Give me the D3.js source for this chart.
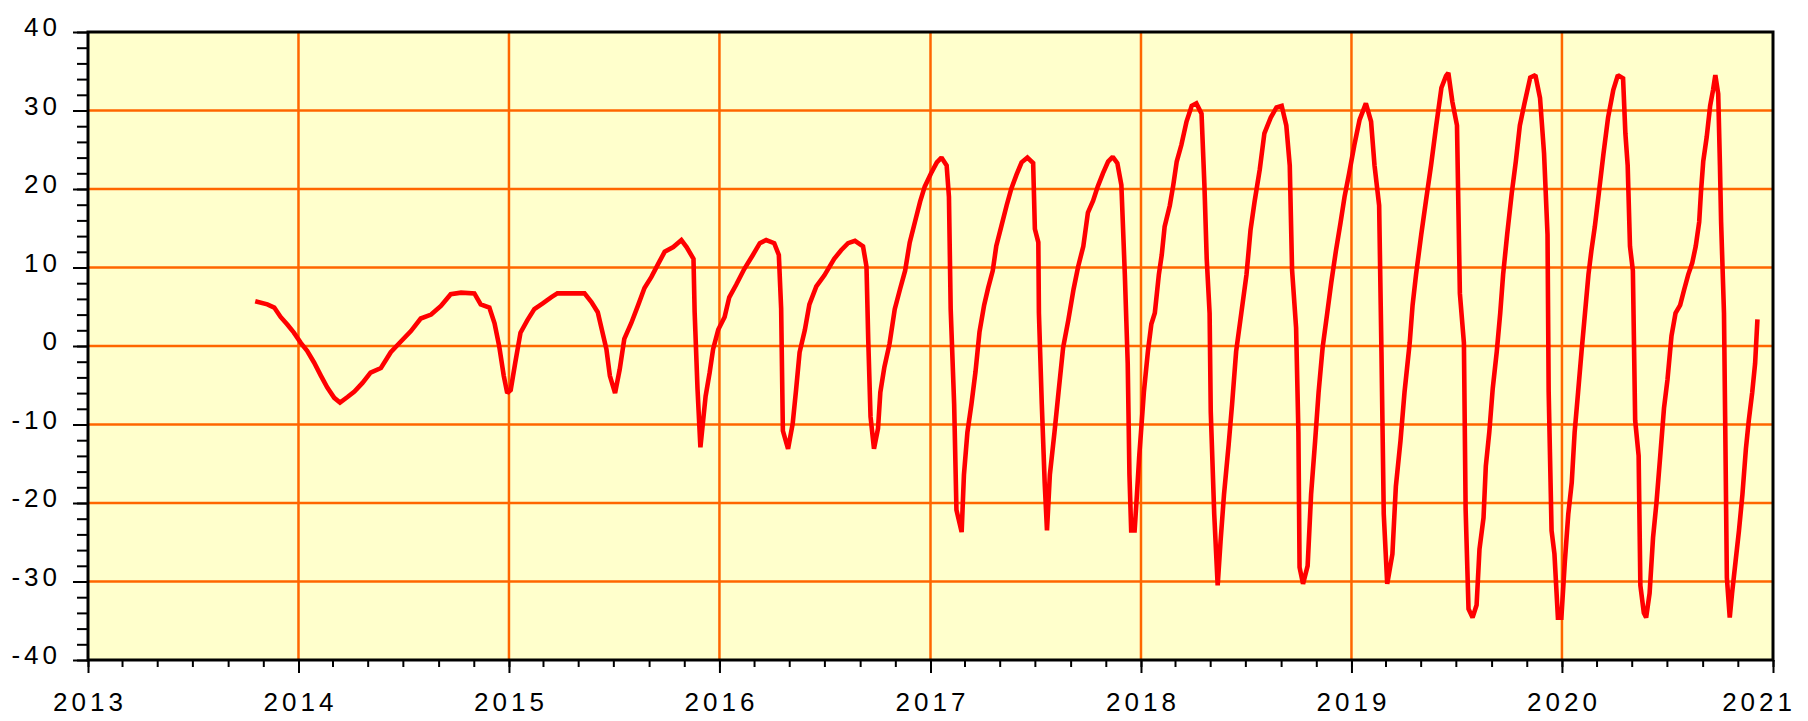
<!DOCTYPE html>
<html lang="en">
<head>
<meta charset="UTF-8">
<title>Time series</title>
<script src="https://d3js.org/d3.v7.min.js"></script>
<style>
    body { margin: 0; background: #fff; overflow: hidden; }
    .lbl { font-family: "Liberation Sans", Arial, sans-serif; font-size: 26px; letter-spacing: 4px; fill: #000; }
</style>
</head>
<body>
<div id="chart"></div>
<script>
    const width = 1808;
    const height = 721;

    // chart data
    const dates = [
        "2013-10-18","2013-11-08","2013-11-20","2013-12-01","2013-12-13","2013-12-24",
        "2014-01-05","2014-01-16","2014-01-28","2014-02-09","2014-02-20","2014-03-04","2014-03-14","2014-03-27",
        "2014-04-08","2014-04-22","2014-05-06","2014-05-24","2014-06-10","2014-06-28","2014-07-15","2014-08-01",
        "2014-08-19","2014-09-05","2014-09-22","2014-10-10","2014-11-02","2014-11-13","2014-11-28","2014-12-07",
        "2014-12-15","2014-12-23","2014-12-29",
        "2015-01-04","2015-01-12","2015-01-21","2015-02-02","2015-02-14","2015-02-28","2015-03-15","2015-03-26",
        "2015-05-12","2015-05-24","2015-06-04","2015-06-11","2015-06-19","2015-06-25","2015-07-04","2015-07-12",
        "2015-07-20","2015-08-01","2015-08-13","2015-08-24","2015-09-05","2015-09-17","2015-09-28","2015-10-13",
        "2015-10-27","2015-11-05","2015-11-17","2015-11-19","2015-11-24","2015-11-29","2015-12-08","2015-12-15",
        "2015-12-21","2015-12-30",
        "2016-01-10","2016-01-18","2016-01-30","2016-02-13","2016-02-28","2016-03-11","2016-03-22","2016-04-05",
        "2016-04-13","2016-04-17","2016-04-20","2016-04-29","2016-05-07","2016-05-13","2016-05-19","2016-05-28",
        "2016-06-05","2016-06-17","2016-07-01","2016-07-18","2016-07-30","2016-08-11","2016-08-23","2016-09-06",
        "2016-09-12","2016-09-15","2016-09-19","2016-09-25","2016-10-02","2016-10-06","2016-10-13","2016-10-22",
        "2016-10-31","2016-11-09","2016-11-18","2016-11-26","2016-12-05","2016-12-14","2016-12-22",
        "2017-01-02","2017-01-12","2017-01-20","2017-01-29","2017-02-02","2017-02-05","2017-02-11","2017-02-15",
        "2017-02-24","2017-02-28","2017-03-06","2017-03-13","2017-03-20","2017-03-27","2017-04-04","2017-04-11",
        "2017-04-19","2017-04-25","2017-05-04","2017-05-13","2017-05-21","2017-05-30","2017-06-08","2017-06-18",
        "2017-06-28","2017-07-01","2017-07-07","2017-07-08","2017-07-13","2017-07-18","2017-07-22","2017-07-27",
        "2017-08-04","2017-08-11","2017-08-19","2017-08-28","2017-09-06","2017-09-14","2017-09-23","2017-10-01",
        "2017-10-10","2017-10-18","2017-10-27","2017-11-05","2017-11-13","2017-11-21","2017-11-28","2017-12-04",
        "2017-12-09","2017-12-12","2017-12-15","2017-12-21","2017-12-25","2017-12-29",
        "2018-01-01","2018-01-06","2018-01-13","2018-01-19","2018-01-25","2018-02-01","2018-02-06","2018-02-11",
        "2018-02-20","2018-02-26","2018-03-04","2018-03-12","2018-03-21","2018-03-30","2018-04-07","2018-04-16",
        "2018-04-21","2018-04-25","2018-04-30","2018-05-02","2018-05-08","2018-05-14","2018-05-19","2018-05-25",
        "2018-06-02","2018-06-08","2018-06-15","2018-06-24","2018-07-03","2018-07-10","2018-07-17","2018-07-26",
        "2018-08-03","2018-08-14","2018-08-24","2018-09-02","2018-09-10","2018-09-16","2018-09-20","2018-09-27",
        "2018-10-01","2018-10-03","2018-10-09","2018-10-17","2018-10-23","2018-10-30","2018-11-05","2018-11-12",
        "2018-11-20","2018-11-27","2018-12-05","2018-12-13","2018-12-20","2018-12-28",
        "2019-01-06","2019-01-15","2019-01-26","2019-02-04","2019-02-10","2019-02-18","2019-02-22","2019-02-26",
        "2019-03-04","2019-03-13","2019-03-19","2019-03-27","2019-04-03","2019-04-12","2019-04-17","2019-04-23",
        "2019-05-02","2019-05-10","2019-05-19","2019-05-28","2019-06-06","2019-06-14","2019-06-18","2019-06-25",
        "2019-07-03","2019-07-08","2019-07-15","2019-07-18","2019-07-23","2019-07-30","2019-08-06","2019-08-11",
        "2019-08-18","2019-08-22","2019-08-28","2019-09-03","2019-09-10","2019-09-16","2019-09-21","2019-09-28",
        "2019-10-06","2019-10-13","2019-10-20","2019-10-28","2019-11-07","2019-11-16","2019-11-24","2019-12-01",
        "2019-12-07","2019-12-09","2019-12-14","2019-12-19","2019-12-25","2019-12-31",
        "2020-01-06","2020-01-12","2020-01-18","2020-01-23","2020-01-29","2020-02-04","2020-02-10","2020-02-16",
        "2020-02-21","2020-02-27","2020-03-05","2020-03-13","2020-03-21","2020-03-30","2020-04-07","2020-04-16",
        "2020-04-20","2020-04-24","2020-04-28","2020-05-03","2020-05-07","2020-05-13","2020-05-16","2020-05-22",
        "2020-05-26","2020-06-01","2020-06-07","2020-06-13","2020-06-20","2020-06-26","2020-07-02","2020-07-09",
        "2020-07-16","2020-07-24","2020-07-31","2020-08-07","2020-08-14","2020-08-20","2020-08-26","2020-08-29",
        "2020-09-02","2020-09-08","2020-09-14","2020-09-19","2020-09-23","2020-09-28","2020-10-01","2020-10-03",
        "2020-10-08","2020-10-10","2020-10-13","2020-10-18","2020-10-22","2020-10-28","2020-11-03","2020-11-09",
        "2020-11-15","2020-11-20","2020-11-26","2020-12-01","2020-12-05"
    ];
    const values = [
        5.7, 5.3, 4.9, 3.7, 2.7, 1.7,
        0.4, -0.6, -2.1, -3.8, -5.3, -6.6, -7.2, -6.5,
        -5.8, -4.7, -3.4, -2.8, -0.8, 0.6, 1.9, 3.5,
        4.0, 5.1, 6.6, 6.8, 6.7, 5.3, 4.9, 2.9,
        0.0, -3.8, -6.0,
        -5.6, -2.1, 1.7, 3.3, 4.7, 5.4, 6.2, 6.7,
        6.7, 5.6, 4.3, 2.1, -0.4, -3.8, -6.0, -3.0,
        0.9, 2.9, 5.2, 7.4, 8.8, 10.5, 12.0, 12.6,
        13.5, 12.6, 11.1, 4.3, -5.5, -12.9, -6.4, -3.4,
        -0.4, 2.1,
        3.7, 6.2, 7.8, 9.8, 11.6, 13.1, 13.5, 13.1,
        11.6, 4.8, -10.8, -13.1, -9.9, -5.5, -0.8, 2.0,
        5.3, 7.6, 9.0, 11.1, 12.2, 13.1, 13.4, 12.7,
        10.1, 0.9, -9.0, -13.1, -10.5, -5.9, -2.7, 0.3,
        4.7, 7.2, 9.6, 13.2, 15.8, 18.4, 20.3,
        22.0, 23.4, 24.0, 23.0, 19.0, 4.7, -7.4, -20.9,
        -23.7, -16.4, -11.0, -7.4, -3.3, 1.8, 5.2, 7.4,
        9.6, 12.7, 15.3, 17.9, 20.0, 21.8, 23.4, 24.0,
        23.3, 14.9, 13.2, 4.2, -7.4, -17.4, -23.5, -16.4,
        -11.0, -5.9, -0.2, 3.3, 7.2, 10.1, 12.7, 17.0,
        18.5, 20.3, 22.0, 23.5, 24.1, 23.3, 20.5, 9.1,
        -2.2, -16.4, -23.5, -23.5, -18.9, -14.0,
        -11.0, -5.9, -0.7, 2.8, 4.2, 9.1, 11.6, 15.2,
        17.9, 20.5, 23.5, 25.6, 28.6, 30.6, 30.9, 29.6,
        20.5, 11.1, 4.2, -8.4, -21.4, -30.5, -24.9, -18.9,
        -12.6, -7.4, -0.7, 4.2, 9.1, 14.8, 18.4, 22.5,
        27.1, 29.1, 30.4, 30.6, 28.1, 23.0, 9.7, 2.3,
        -11.0, -28.2, -30.3, -28.0, -18.9, -12.1, -5.9, -0.2,
        4.2, 8.1, 12.1, 15.7, 19.0, 22.0,
        25.6, 28.8, 30.9, 28.6, 23.0, 17.9, -0.7, -21.4,
        -30.3, -26.5, -17.9, -12.1, -5.9, 0.4, 5.2, 9.1,
        14.2, 18.4, 23.0, 28.1, 32.9, 34.4, 34.8, 31.1,
        28.1, 6.7, 0.4, -20.9, -33.5, -34.6, -33.0, -25.9,
        -21.9, -15.3, -11.0, -5.4, -0.7, 4.2, 9.1, 14.2,
        19.5, 23.5, 28.1, 30.9, 34.2, 34.5, 31.6, 24.5,
        14.2, -5.9, -23.5, -26.5, -34.6, -34.6,
        -27.5, -21.4, -17.4, -11.0, -5.9, -0.7, 4.2, 9.1,
        12.1, 15.2, 19.5, 24.5, 29.1, 32.6, 34.5, 34.1,
        27.1, 23.0, 12.7, 9.6, -9.5, -14.0, -30.5, -34.0,
        -34.6, -31.5, -24.4, -19.9, -13.5, -7.9, -4.3, 1.3,
        4.2, 5.2, 7.2, 9.1, 10.6, 12.7, 15.8, 19.5,
        23.5, 26.6, 30.6, 32.6, 34.5, 32.1, 23.0, 15.8,
        4.2, -9.0, -29.5, -34.6, -31.5, -27.5, -23.5, -18.9,
        -13.1, -9.5, -5.9, -2.2, 3.4
    ];

    const xStart = "2013-01-01";
    const xEnd = "2021-01-01";
    const yMin = -40;
    const yMax = 40;

    const parse = d3.timeParse("%Y-%m-%d");
    const data = dates.map((d, i) => ({ date: parse(d), value: values[i] }));

    const margin = { top: 32, right: 35, bottom: 61, left: 88 };

    const svg = d3.select("#chart")
        .append("svg")
        .attr("width", width)
        .attr("height", height);

    const x = d3.scaleTime()
        .domain([parse(xStart), parse(xEnd)])
        .range([margin.left, width - margin.right]);
    const y = d3.scaleLinear()
        .domain([yMin, yMax])
        .range([height - margin.bottom, margin.top]);

    // plot background
    svg.append("rect")
        .attr("x", x.range()[0])
        .attr("y", y.range()[1])
        .attr("width", x.range()[1] - x.range()[0])
        .attr("height", y.range()[0] - y.range()[1])
        .attr("fill", "#ffffcc");

    // grid
    const yearTicks = x.ticks(d3.timeYear.every(1));
    svg.append("g").selectAll("line")
        .data(yearTicks.slice(1, -1))
        .join("line")
        .attr("x1", d => x(d)).attr("x2", d => x(d))
        .attr("y1", y(yMin)).attr("y2", y(yMax))
        .attr("stroke", "#ff6600")
        .attr("stroke-width", 2.5);
    svg.append("g").selectAll("line")
        .data(d3.range(yMin + 10, yMax, 10))
        .join("line")
        .attr("x1", x.range()[0]).attr("x2", x.range()[1])
        .attr("y1", d => y(d)).attr("y2", d => y(d))
        .attr("stroke", "#ff6600")
        .attr("stroke-width", 2.5);

    // series
    const line = d3.line()
        .x(d => x(d.date))
        .y(d => y(d.value));
    svg.append("path")
        .datum(data)
        .attr("fill", "none")
        .attr("stroke", "#ff0000")
        .attr("stroke-width", 4.6)
        .attr("stroke-linejoin", "miter")
        .attr("stroke-miterlimit", 1.5)
        .attr("d", line);

    // axes (ticks only, labels drawn separately)
    const xMinor = d3.axisBottom(x).ticks(d3.timeMonth.every(2)).tickSize(7).tickFormat("");
    const xMajor = d3.axisBottom(x).ticks(d3.timeYear.every(1)).tickSize(13).tickFormat("");
    const yMinor = d3.axisLeft(y).tickValues(d3.range(yMin, yMax + 1, 2)).tickSize(11).tickFormat("");
    const yMajor = d3.axisLeft(y).tickValues(d3.range(yMin, yMax + 1, 10)).tickSize(15).tickFormat("");

    [xMinor, xMajor].forEach(a => {
        svg.append("g")
            .attr("transform", `translate(0,${y(yMin)})`)
            .call(a)
            .call(g => g.select(".domain").remove())
            .call(g => g.selectAll(".tick line").attr("stroke", "#000").attr("stroke-width", 2));
    });
    [yMinor, yMajor].forEach(a => {
        svg.append("g")
            .attr("transform", `translate(${x.range()[0]},0)`)
            .call(a)
            .call(g => g.select(".domain").remove())
            .call(g => g.selectAll(".tick line").attr("stroke", "#000").attr("stroke-width", 2));
    });

    // frame
    svg.append("rect")
        .attr("x", x.range()[0])
        .attr("y", y.range()[1])
        .attr("width", x.range()[1] - x.range()[0])
        .attr("height", y.range()[0] - y.range()[1])
        .attr("fill", "none")
        .attr("stroke", "#000")
        .attr("stroke-width", 3);

    // labels
    svg.append("g").selectAll("text")
        .data(d3.range(yMin, yMax + 1, 10))
        .join("text")
        .attr("class", "lbl")
        .attr("x", 61)
        .attr("y", d => y(d) + 4)
        .attr("text-anchor", "end")
        .text(d => d);

    svg.append("g").selectAll("text")
        .data(yearTicks)
        .join("text")
        .attr("class", "lbl")
        .attr("y", 711)
        .attr("text-anchor", "middle")
        .text(d => d3.timeFormat("%Y")(d))
        .attr("x", function (d) {
            // keep the last label inside the picture
            const half = this.getComputedTextLength() / 2;
            return Math.min(x(d) + 2, width - 12 - half);
        });
</script>
</body>
</html>
